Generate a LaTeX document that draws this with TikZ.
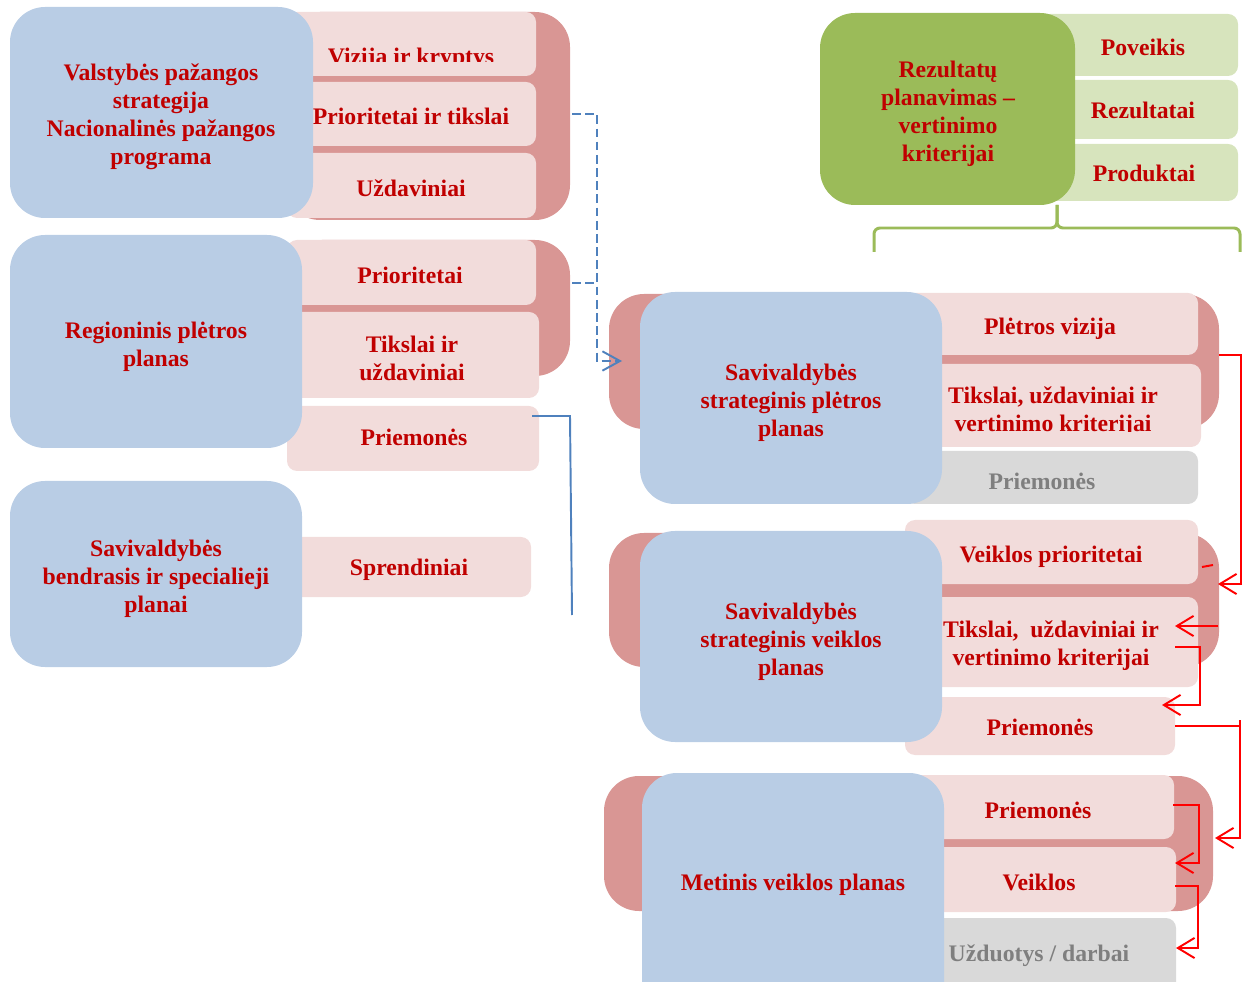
\documentclass[tikz,border=0pt]{standalone}
\usepackage{fontspec}
\setmainfont{Liberation Serif}
\usepackage{xcolor}
\usepackage{tikz}
\usetikzlibrary{arrows.meta,calc,positioning}
\definecolor{boxblue}{HTML}{B9CDE5}
\definecolor{darkpink}{HTML}{D99694}
\definecolor{lightpink}{HTML}{F2DCDB}
\definecolor{boxgreen}{HTML}{9BBB59}
\definecolor{lightgreen}{HTML}{D7E4BD}
\definecolor{boxgrey}{HTML}{D9D9D9}
\definecolor{txtred}{HTML}{C00000}
\definecolor{txtgrey}{HTML}{7F7F7F}
\definecolor{lineblue}{HTML}{4F81BD}

\begin{document}
\begin{tikzpicture}[x=0.02cm,y=-0.02cm,
  bluebox/.style={fill=boxblue,rounded corners=0.7cm},
  greenbox/.style={fill=boxgreen,rounded corners=0.7cm},
  backbox/.style={fill=darkpink,rounded corners=0.7cm},
  pinkbox/.style={fill=lightpink,rounded corners=0.2cm},
  lgreenbox/.style={fill=lightgreen,rounded corners=0.2cm},
  greybox/.style={fill=boxgrey,rounded corners=0.2cm},
  lbl/.style={text=txtred,font=\bfseries\fontsize{13.5}{15.9}\selectfont,align=center,inner sep=0pt},
  greylbl/.style={lbl,text=txtgrey},
  redline/.style={draw=red,line width=1.1pt},
  redarr/.style={redline,-{Straight Barb[length=9.5pt,width=11.5pt]}},
  bluearr/.style={draw=lineblue,line width=1.1pt,dash pattern=on 5pt off 2.5pt,-{Straight Barb[length=10pt,width=11pt]}},
  blueline/.style={draw=lineblue,line width=1.1pt}]
\useasboundingbox (0,0) rectangle (1250,982);

% valstybes pazangos strategija
\fill[backbox] (285,12) rectangle (570,220);
\fill[pinkbox] (287,12) rectangle (536,76);
\fill[pinkbox] (287,82) rectangle (536,146);
\fill[pinkbox] (287,153) rectangle (536,218);
\begin{scope}
\clip (287,12) rectangle (536,62);
\node[lbl,anchor=base] (vizija) at (411,65) {Vizija ir kryptys};
\end{scope}
\node[lbl] (prtiksl) at (411,116) {Prioritetai ir tikslai};
\node[lbl] (uzdav) at (411,188) {Uždaviniai};
\fill[bluebox] (10,7) rectangle (313,218);
\node[lbl] (vps) at (161,117) {Valstybės pažangos\\strategija\\Nacionalinės pažangos\\programa};

% regioninis
\fill[backbox] (287,240) rectangle (570,376);
\fill[pinkbox] (287,240) rectangle (536,305);
\fill[pinkbox] (287,312) rectangle (539,398);
\fill[pinkbox] (287,406) rectangle (539,471);
\node[lbl] (rprior) at (410,275) {Prioritetai};
\node[lbl] (rtiksl) at (412,358) {Tikslai ir\\uždaviniai};
\node[lbl] (rpriem) at (414,437) {Priemonės};
\fill[bluebox] (10,235) rectangle (302,448);
\node[lbl] (rpp) at (156,347) {Regioninis plėtros\\planas};

% bendrasis
\fill[pinkbox] (287,537) rectangle (531,597);
\node[lbl] (sprend) at (409,570) {Sprendiniai};
\fill[bluebox] (10,481) rectangle (302,667);
\node[lbl] (sbp) at (156,579) {Savivaldybės\\bendrasis ir specialieji\\planai};

% rezultatu planavimas
\fill[lgreenbox] (1040,14) rectangle (1238,76);
\fill[lgreenbox] (1040,80) rectangle (1238,139);
\fill[lgreenbox] (1040,144) rectangle (1238,201);
\node[lbl] (poveik) at (1143,47) {Poveikis};
\node[lbl] (rezult) at (1143,110) {Rezultatai};
\node[lbl] (produkt) at (1144,173) {Produktai};
\fill[greenbox] (820,13) rectangle (1075,205);
\node[lbl] (rpv) at (948,114) {Rezultatų\\planavimas --\\vertinimo\\kriterijai};
\draw[boxgreen,line width=1.7pt,rounded corners=0.12cm] (874,252) -- (874,228) -- (1057,228) -- (1057,205);
\draw[boxgreen,line width=1.7pt,rounded corners=0.12cm] (1240,252) -- (1240,228) -- (1057,228) -- (1057,205);

% strateginis pletros planas
\fill[backbox] (609,294) rectangle (1219,429);
\fill[pinkbox] (905,293) rectangle (1198,355);
\fill[pinkbox] (905,364) rectangle (1201,447);
\fill[greybox] (905,451) rectangle (1198,504);
\node[lbl] (pviz) at (1050,329) {Plėtros vizija};
\begin{scope}
\clip (905,364) rectangle (1201,432);
\node[lbl] (ptiksl) at (1053,412) {Tikslai, uždaviniai ir\\vertinimo kriterijai};
\end{scope}
\node[greylbl] (ppriem) at (1042,481) {Priemonės};
\fill[bluebox] (640,292) rectangle (942,504);
\node[lbl] (spp) at (791,403) {Savivaldybės\\strateginis plėtros\\planas};

% strateginis veiklos planas
\fill[backbox] (609,533) rectangle (1219,667);
\fill[pinkbox] (905,520) rectangle (1198,584);
\fill[pinkbox] (905,597) rectangle (1198,687);
\fill[pinkbox] (905,697) rectangle (1175,755);
\node[lbl] (vprior) at (1051,557) {Veiklos prioritetai};
\node[lbl] (vtiksl) at (1051,646) {Tikslai,\ \ uždaviniai ir\\vertinimo kriterijai};
\node[lbl] (vpriem) at (1040,727) {Priemonės};
\fill[bluebox] (640,531) rectangle (942,742);
\node[lbl] (svp) at (791,642) {Savivaldybės\\strateginis veiklos\\planas};

% metinis veiklos planas
\fill[backbox] (604,776) rectangle (1213,911);
\fill[pinkbox] (905,775) rectangle (1174,839);
\fill[pinkbox] (905,847) rectangle (1176,912);
\fill[greybox] (905,918) rectangle (1176,995);
\node[lbl] (mpriem) at (1038,810) {Priemonės};
\node[lbl] (mveikl) at (1039,882) {Veiklos};
\node[greylbl] (mdarb) at (1039,956) {Užduotys / darbai};
\fill[bluebox] (642,773) rectangle (944,1020);
\node[lbl] (mvp) at (793,885) {Metinis veiklos planas};

% jungtys
\coordinate (vpsout) at (572,114);
\coordinate (rppout) at (572,283);
\coordinate (sppin) at (622,361);
\coordinate (rpmout) at (532,416);
\coordinate (rpmend) at (572,615);
\draw[bluearr] (vpsout) -- ++(25,0) |- (sppin);
\draw[bluearr,-] (rppout) -- ++(25,0);
\draw[blueline] (rpmout) -- (570,416) -- (rpmend);

\coordinate (pvout) at (1219,355);
\coordinate (vprin) at (1218,584);
\coordinate (vtin) at (1175,626);
\coordinate (vtout) at (1175,647);
\coordinate (vpmin) at (1162,705);
\coordinate (vpmout) at (1175,726);
\coordinate (mvpin) at (1215,838);
\coordinate (mpout) at (1173,805);
\coordinate (mvin) at (1175,863);
\coordinate (mvout) at (1175,886);
\coordinate (mdin) at (1176,948);
\draw[redarr] (pvout) -- ++(22,0) |- (vprin);
\draw[redline] (1202,567) -- (1213,565);
\draw[redarr] (1218,626) -- (vtin);
\draw[redarr] (vtout) -- ++(25,0) |- (vpmin);
\draw[redline] (1240,720) -- (1240,726);
\draw[redarr] (vpmout) -- ++(65,0) |- (mvpin);
\draw[redarr] (mpout) -- ++(26,0) |- (mvin);
\draw[redarr] (mvout) -- ++(23,0) |- (mdin);
\end{tikzpicture}
\end{document}
